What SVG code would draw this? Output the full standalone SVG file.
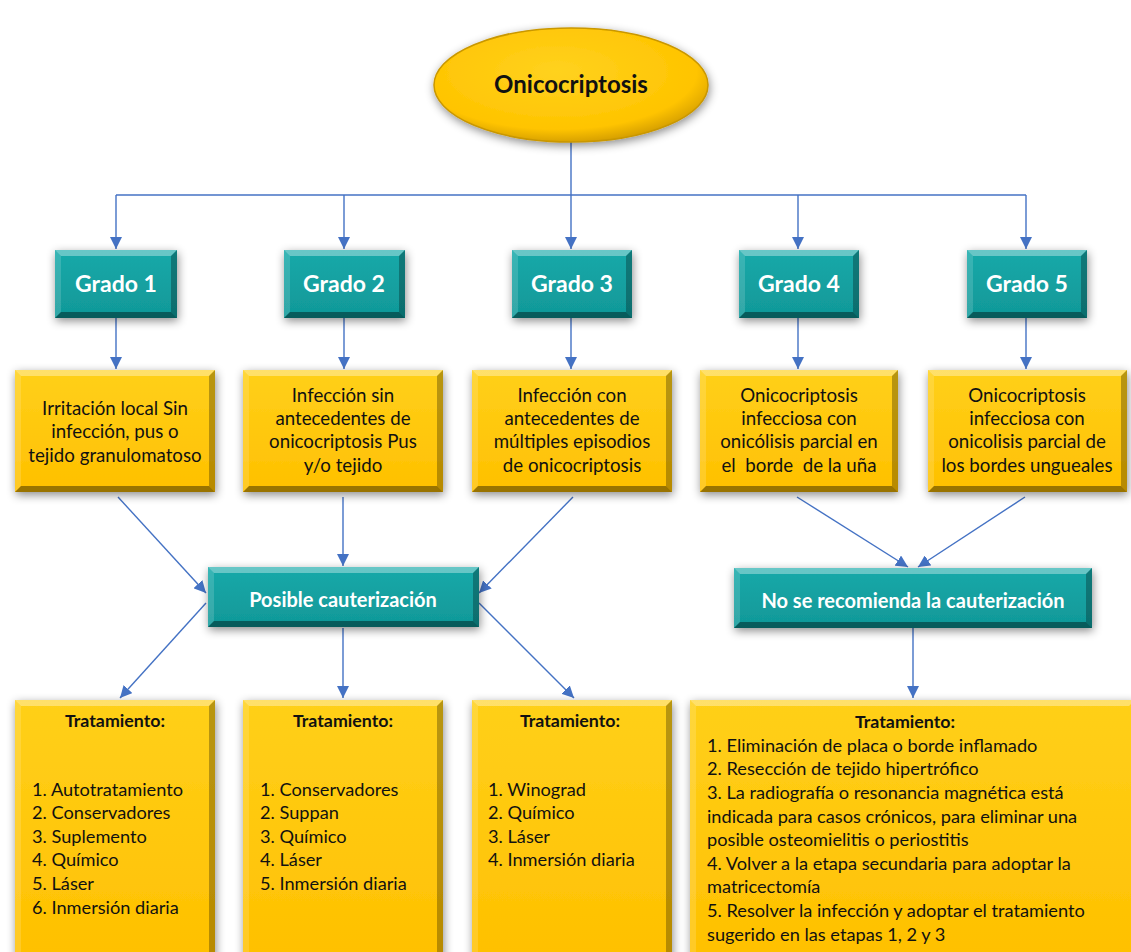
<svg xmlns="http://www.w3.org/2000/svg" width="1131" height="952" viewBox="0 0 1131 952">
<defs>
<style>
.y{fill:url(#gy);}
.t{fill:url(#gt);}
.bt{fill:#fff;fill-opacity:.35;}
.bl{fill:#fff;fill-opacity:.15;}
.br{fill:#000;fill-opacity:.28;}
.bb{fill:#000;fill-opacity:.4;}
.sh{filter:url(#ds);}
.gtx{font-family:Lato,"Liberation Sans",sans-serif;font-weight:bold;font-size:23px;fill:#fff;text-anchor:middle;}
.dtx{font-family:Lato,"Liberation Sans",sans-serif;font-size:18.7px;fill:#111;text-anchor:middle;}
.ttl{font-family:Lato,"Liberation Sans",sans-serif;font-weight:bold;font-size:17.8px;fill:#111;text-anchor:middle;}
.ltx{font-family:Lato,"Liberation Sans",sans-serif;font-size:18.2px;fill:#111;}
.ctx{font-family:Lato,"Liberation Sans",sans-serif;font-weight:bold;font-size:20px;fill:#fff;text-anchor:middle;}
.con line{stroke:#4472C4;stroke-width:1.4;fill:none;marker-end:url(#ar);}
.con line.n{marker-end:none;}
</style>
<linearGradient id="gy" x1="0" y1="0" x2="0" y2="1">
<stop offset="0" stop-color="#FFD01A"/>
<stop offset="1" stop-color="#FFC000"/>
</linearGradient>
<linearGradient id="gt" x1="0" y1="0" x2="0" y2="1">
<stop offset="0" stop-color="#18A9A9"/>
<stop offset="1" stop-color="#109898"/>
</linearGradient>
<radialGradient id="ge" cx="0.45" cy="0.38" r="0.62">
<stop offset="0" stop-color="#FFD21F"/>
<stop offset="0.82" stop-color="#FFC400"/>
<stop offset="1" stop-color="#D9A200"/>
</radialGradient>
<filter id="ds" x="-20%" y="-30%" width="140%" height="160%">
<feDropShadow dx="1" dy="3" stdDeviation="5" flood-color="#000" flood-opacity="0.45"/>
</filter>
<marker id="ar" viewBox="0 0 12 12" refX="12" refY="6" markerWidth="12" markerHeight="12" markerUnits="userSpaceOnUse" orient="auto">
<path d="M0,0 L12,6 L0,12 Z" fill="#4472C4"/>
</marker>
</defs>
<rect width="1131" height="952" fill="#fff"/>

<g class="con" id="connectors">
<line class="n" x1="571" y1="142" x2="571" y2="195"/>
<line class="n" x1="116" y1="195" x2="1026" y2="195"/>
<line x1="116" y1="195" x2="116" y2="249"/>
<line x1="344" y1="195" x2="344" y2="249"/>
<line x1="571" y1="195" x2="571" y2="249"/>
<line x1="798" y1="195" x2="798" y2="249"/>
<line x1="1026" y1="195" x2="1026" y2="249"/>
<line x1="116" y1="318" x2="116" y2="369"/>
<line x1="344" y1="318" x2="344" y2="369"/>
<line x1="571" y1="318" x2="571" y2="369"/>
<line x1="798" y1="318" x2="798" y2="369"/>
<line x1="1026" y1="318" x2="1026" y2="369"/>
<line x1="118" y1="497" x2="206" y2="593"/>
<line x1="343" y1="497" x2="343" y2="566"/>
<line x1="573" y1="497" x2="479" y2="593"/>
<line x1="797" y1="497" x2="908" y2="567"/>
<line x1="1025" y1="497" x2="918" y2="567"/>
<line x1="206" y1="603" x2="120" y2="698"/>
<line x1="343" y1="628" x2="343" y2="698"/>
<line x1="479" y1="603" x2="574" y2="698"/>
<line x1="913" y1="628" x2="913" y2="698"/>
</g>

<g id="root">
<ellipse class="sh" cx="571" cy="85" rx="137" ry="57" fill="url(#ge)" stroke="#C99700" stroke-width="1.5"/>
<text x="571" y="93" font-family="Lato,'Liberation Sans',sans-serif" font-weight="bold" font-size="24" fill="#111" text-anchor="middle">Onicocriptosis</text>
</g>

<g id="grado1">
<rect class="t sh" x="55" y="250" width="122" height="68"/>
<polygon class="bt" points="55,250 177,250 171,256 61,256"/>
<polygon class="bl" points="55,250 61,256 61,312 55,318"/>
<polygon class="br" points="177,250 177,318 171,312 171,256"/>
<polygon class="bb" points="55,318 177,318 171,312 61,312"/>
<text class="gtx" x="116" y="292">Grado 1</text>
</g>
<g id="grado2">
<rect class="t sh" x="284" y="250" width="121" height="68"/>
<polygon class="bt" points="284,250 405,250 399,256 290,256"/>
<polygon class="bl" points="284,250 290,256 290,312 284,318"/>
<polygon class="br" points="405,250 405,318 399,312 399,256"/>
<polygon class="bb" points="284,318 405,318 399,312 290,312"/>
<text class="gtx" x="344" y="292">Grado 2</text>
</g>
<g id="grado3">
<rect class="t sh" x="512" y="250" width="120" height="68"/>
<polygon class="bt" points="512,250 632,250 626,256 518,256"/>
<polygon class="bl" points="512,250 518,256 518,312 512,318"/>
<polygon class="br" points="632,250 632,318 626,312 626,256"/>
<polygon class="bb" points="512,318 632,318 626,312 518,312"/>
<text class="gtx" x="572" y="292">Grado 3</text>
</g>
<g id="grado4">
<rect class="t sh" x="739" y="250" width="120" height="68"/>
<polygon class="bt" points="739,250 859,250 853,256 745,256"/>
<polygon class="bl" points="739,250 745,256 745,312 739,318"/>
<polygon class="br" points="859,250 859,318 853,312 853,256"/>
<polygon class="bb" points="739,318 859,318 853,312 745,312"/>
<text class="gtx" x="799" y="292">Grado 4</text>
</g>
<g id="grado5">
<rect class="t sh" x="967" y="250" width="120" height="68"/>
<polygon class="bt" points="967,250 1087,250 1081,256 973,256"/>
<polygon class="bl" points="967,250 973,256 973,312 967,318"/>
<polygon class="br" points="1087,250 1087,318 1081,312 1081,256"/>
<polygon class="bb" points="967,318 1087,318 1081,312 973,312"/>
<text class="gtx" x="1027" y="292">Grado 5</text>
</g>

<g id="desc1">
<rect class="y sh" x="15" y="370" width="200" height="122"/>
<polygon class="bt" points="15,370 215,370 209,376 21,376"/>
<polygon class="bl" points="15,370 21,376 21,486 15,492"/>
<polygon class="br" points="215,370 215,492 209,486 209,376"/>
<polygon class="bb" points="15,492 215,492 209,486 21,486"/>
<text class="dtx" x="115" y="415">Irritación local Sin</text>
<text class="dtx" x="115" y="438">infección, pus o</text>
<text class="dtx" x="115" y="462">tejido granulomatoso</text>
</g>
<g id="desc2">
<rect class="y sh" x="243" y="370" width="200" height="122"/>
<polygon class="bt" points="243,370 443,370 437,376 249,376"/>
<polygon class="bl" points="243,370 249,376 249,486 243,492"/>
<polygon class="br" points="443,370 443,492 437,486 437,376"/>
<polygon class="bb" points="243,492 443,492 437,486 249,486"/>
<text class="dtx" x="343" y="402">Infección sin</text>
<text class="dtx" x="343" y="425">antecedentes de</text>
<text class="dtx" x="343" y="448">onicocriptosis Pus</text>
<text class="dtx" x="343" y="472">y/o tejido</text>
</g>
<g id="desc3">
<rect class="y sh" x="472" y="370" width="200" height="122"/>
<polygon class="bt" points="472,370 672,370 666,376 478,376"/>
<polygon class="bl" points="472,370 478,376 478,486 472,492"/>
<polygon class="br" points="672,370 672,492 666,486 666,376"/>
<polygon class="bb" points="472,492 672,492 666,486 478,486"/>
<text class="dtx" x="572" y="402">Infección con</text>
<text class="dtx" x="572" y="425">antecedentes de</text>
<text class="dtx" x="572" y="448">múltiples episodios</text>
<text class="dtx" x="572" y="472">de onicocriptosis</text>
</g>
<g id="desc4">
<rect class="y sh" x="700" y="370" width="198" height="122"/>
<polygon class="bt" points="700,370 898,370 892,376 706,376"/>
<polygon class="bl" points="700,370 706,376 706,486 700,492"/>
<polygon class="br" points="898,370 898,492 892,486 892,376"/>
<polygon class="bb" points="700,492 898,492 892,486 706,486"/>
<text class="dtx" x="799" y="402">Onicocriptosis</text>
<text class="dtx" x="799" y="425">infecciosa con</text>
<text class="dtx" x="799" y="448">onicólisis parcial en</text>
<text class="dtx" x="799" y="472" xml:space="preserve">el  borde  de la uña</text>
</g>
<g id="desc5">
<rect class="y sh" x="928" y="370" width="199" height="122"/>
<polygon class="bt" points="928,370 1127,370 1121,376 934,376"/>
<polygon class="bl" points="928,370 934,376 934,486 928,492"/>
<polygon class="br" points="1127,370 1127,492 1121,486 1121,376"/>
<polygon class="bb" points="928,492 1127,492 1121,486 934,486"/>
<text class="dtx" x="1027" y="402">Onicocriptosis</text>
<text class="dtx" x="1027" y="425">infecciosa con</text>
<text class="dtx" x="1027" y="448">onicolisis parcial de</text>
<text class="dtx" x="1027" y="472">los bordes ungueales</text>
</g>

<g id="posible">
<rect class="t sh" x="208" y="567" width="271" height="60"/>
<polygon class="bt" points="208,567 479,567 473,573 214,573"/>
<polygon class="bl" points="208,567 214,573 214,621 208,627"/>
<polygon class="br" points="479,567 479,627 473,621 473,573"/>
<polygon class="bb" points="208,627 479,627 473,621 214,621"/>
<text class="ctx" x="343" y="607">Posible cauterización</text>
</g>
<g id="norecomienda">
<rect class="t sh" x="734" y="568" width="358" height="60"/>
<polygon class="bt" points="734,568 1092,568 1086,574 740,574"/>
<polygon class="bl" points="734,568 740,574 740,622 734,628"/>
<polygon class="br" points="1092,568 1092,628 1086,622 1086,574"/>
<polygon class="bb" points="734,628 1092,628 1086,622 740,622"/>
<text class="ctx" x="913" y="608">No se recomienda la cauterización</text>
</g>

<g id="trat1">
<rect class="y sh" x="15" y="700" width="200" height="262"/>
<polygon class="bt" points="15,700 215,700 209,706 21,706"/>
<polygon class="bl" points="15,700 21,706 21,962 15,962"/>
<polygon class="br" points="215,700 215,962 209,962 209,706"/>
<text class="ttl" x="115" y="727">Tratamiento:</text>
<text class="ltx" x="32" y="796">1. Autotratamiento</text>
<text class="ltx" x="32" y="819">2. Conservadores</text>
<text class="ltx" x="32" y="843">3. Suplemento</text>
<text class="ltx" x="32" y="866">4. Químico</text>
<text class="ltx" x="32" y="890">5. Láser</text>
<text class="ltx" x="32" y="914">6. Inmersión diaria</text>
</g>
<g id="trat2">
<rect class="y sh" x="243" y="700" width="200" height="262"/>
<polygon class="bt" points="243,700 443,700 437,706 249,706"/>
<polygon class="bl" points="243,700 249,706 249,962 243,962"/>
<polygon class="br" points="443,700 443,962 437,962 437,706"/>
<text class="ttl" x="343" y="727">Tratamiento:</text>
<text class="ltx" x="260" y="796">1. Conservadores</text>
<text class="ltx" x="260" y="819">2. Suppan</text>
<text class="ltx" x="260" y="843">3. Químico</text>
<text class="ltx" x="260" y="866">4. Láser</text>
<text class="ltx" x="260" y="890">5. Inmersión diaria</text>
</g>
<g id="trat3">
<rect class="y sh" x="472" y="700" width="200" height="262"/>
<polygon class="bt" points="472,700 672,700 666,706 478,706"/>
<polygon class="bl" points="472,700 478,706 478,962 472,962"/>
<polygon class="br" points="672,700 672,962 666,962 666,706"/>
<text class="ttl" x="570" y="727">Tratamiento:</text>
<text class="ltx" x="488" y="796">1. Winograd</text>
<text class="ltx" x="488" y="819">2. Químico</text>
<text class="ltx" x="488" y="843">3. Láser</text>
<text class="ltx" x="488" y="866">4. Inmersión diaria</text>
</g>
<g id="trat4">
<rect class="y sh" x="690" y="700" width="445" height="262"/>
<polygon class="bt" points="690,700 1135,700 1129,706 696,706"/>
<polygon class="bl" points="690,700 696,706 696,962 690,962"/>
<text class="ttl" x="905" y="728">Tratamiento:</text>
<text class="ltx" x="707" y="752">1. Eliminación de placa o borde inflamado</text>
<text class="ltx" x="707" y="775">2. Resección de tejido hipertrófico</text>
<text class="ltx" x="707" y="799">3. La radiografía o resonancia magnética está</text>
<text class="ltx" x="707" y="823">indicada para casos crónicos, para eliminar una</text>
<text class="ltx" x="707" y="846">posible osteomielitis o periostitis</text>
<text class="ltx" x="707" y="870">4. Volver a la etapa secundaria para adoptar la</text>
<text class="ltx" x="707" y="893">matricectomía</text>
<text class="ltx" x="707" y="917">5. Resolver la infección y adoptar el tratamiento</text>
<text class="ltx" x="707" y="941">sugerido en las etapas 1, 2 y 3</text>
</g>
</svg>
